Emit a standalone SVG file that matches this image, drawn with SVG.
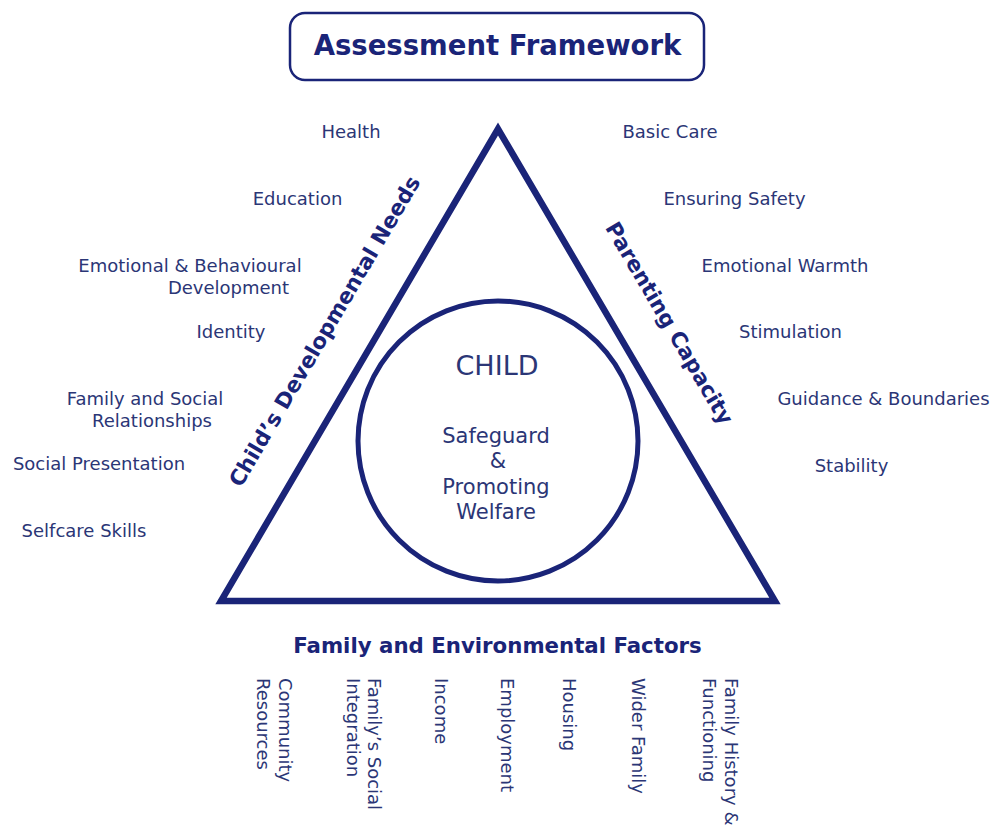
<svg xmlns="http://www.w3.org/2000/svg" width="993" height="825" viewBox="0 0 993 825">
<style>
.lbl{font-family:"DejaVu Sans","Liberation Sans",sans-serif;font-size:18px;fill:#2b3676;text-anchor:middle}
.vl{font-family:"DejaVu Sans","Liberation Sans",sans-serif;font-size:18px;fill:#2b3676;text-anchor:start}
.bold{font-family:"DejaVu Sans","Liberation Sans",sans-serif;font-weight:bold;fill:#1a2478;text-anchor:middle}
.inner{font-family:"DejaVu Sans","Liberation Sans",sans-serif;fill:#2b3676;text-anchor:middle}
.shape{fill:none;stroke:#1a2478}
</style>
<rect width="993" height="825" fill="#ffffff"/>
<g id="title">
<rect class="shape" x="290" y="13" width="414" height="67" rx="15" stroke-width="2.5"/>
<text class="bold" x="497.5" y="55" font-size="27.5">Assessment Framework</text>
</g>
<g id="triangle">
<polygon class="shape" points="498,129 221,601 775,601" stroke-width="6.5" stroke-linejoin="miter"/>
<text class="bold" font-size="21.5" transform="translate(331,335) rotate(-59.6)" x="0" y="0">Child’s Developmental Needs</text>
<text class="bold" font-size="21.5" transform="translate(663,327) rotate(59.6)" x="0" y="0">Parenting Capacity</text>
<text class="bold" x="497.5" y="653" font-size="21.3">Family and Environmental Factors</text>
</g>
<g id="child">
<circle class="shape" cx="498" cy="441" r="140" stroke-width="5"/>
<text class="inner" x="497" y="375" font-size="27">CHILD</text>
<text class="inner" x="496" y="443" font-size="21">Safeguard</text>
<text class="inner" x="498" y="468" font-size="21">&amp;</text>
<text class="inner" x="496" y="494" font-size="21">Promoting</text>
<text class="inner" x="496" y="519" font-size="21">Welfare</text>
</g>
<g id="developmental-needs">
<text class="lbl" x="351" y="138">Health</text>
<text class="lbl" x="297.5" y="205">Education</text>
<text class="lbl" x="190" y="272">Emotional &amp; Behavioural</text>
<text class="lbl" x="228.5" y="294">Development</text>
<text class="lbl" x="231" y="338">Identity</text>
<text class="lbl" x="145" y="405">Family and Social</text>
<text class="lbl" x="152" y="427">Relationships</text>
<text class="lbl" x="99" y="470">Social Presentation</text>
<text class="lbl" x="84" y="537">Selfcare Skills</text>
</g>
<g id="parenting-capacity">
<text class="lbl" x="670" y="138">Basic Care</text>
<text class="lbl" x="734.5" y="205">Ensuring Safety</text>
<text class="lbl" x="785" y="272">Emotional Warmth</text>
<text class="lbl" x="790.5" y="338">Stimulation</text>
<text class="lbl" x="883.5" y="405">Guidance &amp; Boundaries</text>
<text class="lbl" x="851.5" y="472">Stability</text>
</g>
<g id="family-factors">
<text class="vl" transform="translate(279,678) rotate(90)">Community</text>
<text class="vl" transform="translate(257,678) rotate(90)">Resources</text>
<text class="vl" transform="translate(368,678) rotate(90)">Family’s Social</text>
<text class="vl" transform="translate(347,678) rotate(90)">Integration</text>
<text class="vl" transform="translate(435,678) rotate(90)">Income</text>
<text class="vl" transform="translate(501,678) rotate(90)">Employment</text>
<text class="vl" transform="translate(563,678) rotate(90)">Housing</text>
<text class="vl" transform="translate(632,678) rotate(90)">Wider Family</text>
<text class="vl" transform="translate(725,678) rotate(90)">Family History &amp;</text>
<text class="vl" transform="translate(703,678) rotate(90)">Functioning</text>
</g>
<g id="connectors"></g>
</svg>
